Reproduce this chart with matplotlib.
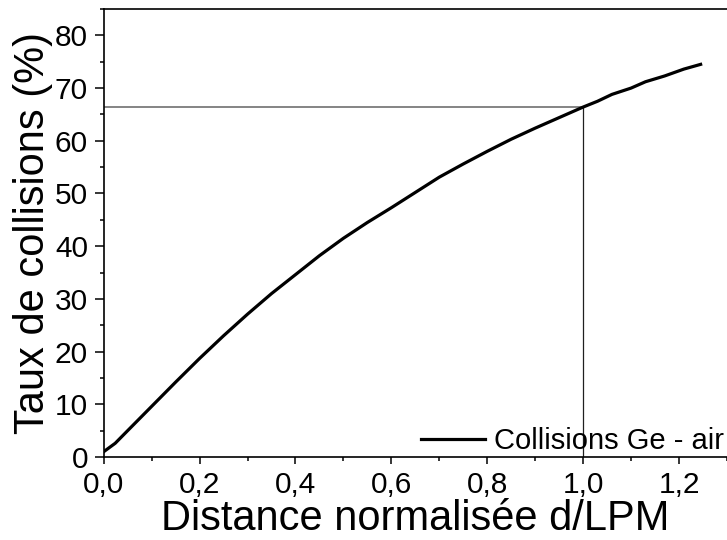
import matplotlib
matplotlib.use("Agg")
import matplotlib.pyplot as plt
from matplotlib.ticker import MultipleLocator, FuncFormatter

plt.rcParams['font.family'] = ['Liberation Sans', 'DejaVu Sans']

distance = [0.0, 0.024, 0.05, 0.1, 0.15, 0.2, 0.25, 0.3, 0.35, 0.4, 0.45, 0.5, 0.55,
            0.6, 0.65, 0.7, 0.75, 0.8, 0.85, 0.9, 0.95, 1.0, 1.03, 1.06, 1.08, 1.1,
            1.13, 1.17, 1.21, 1.245]
taux = [1.0, 2.6, 5.0, 9.6, 14.2, 18.7, 23.0, 27.1, 31.0, 34.6, 38.2, 41.5, 44.5,
        47.3, 50.2, 53.1, 55.6, 58.0, 60.3, 62.4, 64.4, 66.4, 67.5, 68.8, 69.4, 70.0,
        71.2, 72.3, 73.6, 74.5]
ref_x = 1.0
ref_y = 66.4

fig = plt.figure(figsize=(7.27, 5.40), dpi=100)
ax = fig.add_axes([0.1426, 0.1537, 0.8574, 0.8296])

ax.plot(distance, taux, color='black', lw=2.3, label='Collisions Ge - air')
ax.plot([0, ref_x], [ref_y, ref_y], color='#707070', lw=1.2, zorder=1)
ax.plot([ref_x, ref_x], [0, ref_y], color='#202020', lw=0.9, zorder=1)

ax.set_xlim(0, 1.3)
ax.set_ylim(0, 85)
ax.xaxis.set_major_locator(MultipleLocator(0.2))
ax.xaxis.set_minor_locator(MultipleLocator(0.1))
ax.yaxis.set_major_locator(MultipleLocator(10))
ax.yaxis.set_minor_locator(MultipleLocator(5))
ax.xaxis.set_major_formatter(FuncFormatter(lambda v, p: f"{v:.1f}".replace('.', ',')))
ax.yaxis.set_major_formatter(FuncFormatter(lambda v, p: f"{v:.0f}"))

ax.tick_params(which='major', direction='out', width=1.1, labelsize=21.5)
ax.tick_params(which='minor', direction='out', length=3, width=1.1)
ax.tick_params(axis='x', which='major', length=5.3, pad=5)
ax.tick_params(axis='y', which='major', length=6.3, pad=5)
for s in ['left', 'bottom', 'top']:
    ax.spines[s].set_linewidth(1.2)
ax.spines['right'].set_visible(False)

ax.set_xlabel('Distance normalisée d/LPM', fontsize=30, labelpad=0)
ax.set_ylabel('Taux de collisions (%)', fontsize=30, labelpad=1)

ax.legend(loc='lower right', bbox_to_anchor=(0.995, 0.005), frameon=False,
          fontsize=21, handlelength=2.2, handletextpad=0.3, borderpad=0,
          borderaxespad=0)

fig.savefig('out.png', dpi=100)
